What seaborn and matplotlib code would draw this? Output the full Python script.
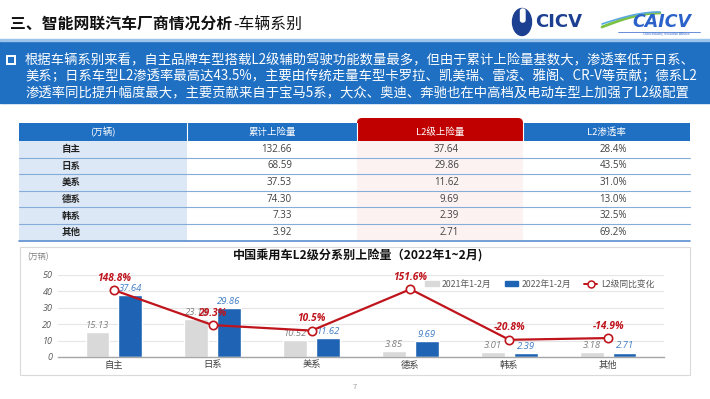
import numpy as np
import pandas as pd
import matplotlib
matplotlib.use('Agg')
import matplotlib.pyplot as plt
import seaborn as sns
from matplotlib.patches import Rectangle, FancyBboxPatch, Ellipse, Patch
from matplotlib.lines import Line2D

# ---------------- data ----------------
categories = ['自主', '日系', '美系', '德系', '韩系', '其他']
cum_insured = [132.66, 68.59, 37.53, 74.30, 7.33, 3.92]
l2_insured = [37.64, 29.86, 11.62, 9.69, 2.39, 2.71]
l2_rate = [28.4, 43.5, 31.0, 13.0, 32.5, 69.2]
table_headers = ['(万辆)', '累计上险量', 'L2级上险量', 'L2渗透率']

series_names = ['2021年1-2月', '2022年1-2月']
insured_2021 = [15.13, 23.10, 10.52, 3.85, 3.01, 3.18]
insured_2022 = [37.64, 29.86, 11.62, 9.69, 2.39, 2.71]
l2_yoy = [148.8, 29.3, 10.5, 151.6, -20.8, -14.9]
line_name = 'L2级同比变化'
y_ticks = [0, 10, 20, 30, 40, 50]

title_bold = '三、智能网联汽车厂商情况分析'
title_rest = '-车辆系别'
chart_title = '中国乘用车L2级分系别上险量（2022年1~2月)'
unit_label = '(万辆)'
summary_lines = [
    '根据车辆系别来看，自主品牌车型搭载L2级辅助驾驶功能数量最多，但由于累计上险量基数大，渗透率低于日系、',
    '美系；日系车型L2渗透率最高达43.5%，主要由传统走量车型卡罗拉、凯美瑞、雷凌、雅阁、CR-V等贡献；德系L2',
    '渗透率同比提升幅度最大，主要贡献来自于宝马5系，大众、奥迪、奔驰也在中高档及电动车型上加强了L2级配置',
]
page_no = '7'

# ---------------- style ----------------
sns.set_style('white')
plt.rcParams['font.family'] = ['Noto Sans CJK SC', 'DejaVu Sans']
NUM_FONT = ['Open Sans', 'DejaVu Sans']

BANNER = '#1f6fc2'
HEAD_BLUE = '#1f6fc2'
LIGHT_COL = '#dce8f6'
RED_HEAD = '#c00000'
PINK = '#fdf2f2'
ROW_LINE = '#86acd9'
GRAY_BAR = '#d9d9d9'
BLUE_BAR = '#1f64b4'
LINE_RED = '#c0141c'
GRAY_LBL = '#7f7f7f'
BLUE_LBL = '#3f7cc6'

fig = plt.figure(figsize=(7.1, 3.99), dpi=100)
bg = fig.add_axes([0, 0, 1, 1])
bg.set_xlim(0, 710)
bg.set_ylim(399, 0)
bg.axis('off')

# ---------------- title ----------------
t1 = bg.text(10, 24, title_bold, fontsize=11.4, fontweight='bold', va='center',
             ha='left', color='#111111')
fig.canvas.draw()
bb = t1.get_window_extent(renderer=fig.canvas.get_renderer())
bg.text(bb.x1 + 1, 24, title_rest, fontsize=11.4, va='center', ha='left', color='#111111')

# ---------------- logos ----------------
bg.add_patch(Ellipse((522, 22), 19, 27, color='#1d3f91'))
bg.add_patch(FancyBboxPatch((520.5, 9), 4.5, 13, boxstyle='round,pad=0,rounding_size=2',
                            color='white'))
bg.text(535, 22, 'CICV', fontsize=13, fontweight='bold', color='#1d3f91', va='center',
        ha='left', family='DejaVu Sans')
xs = np.linspace(602, 660, 30)
bg.plot(xs, 27 - 14 * np.sin((xs - 602) / 58 * np.pi / 2), color='#7cc242', lw=2)
bg.plot(xs, 24 - 12 * np.sin((xs - 602) / 58 * np.pi / 2), color='#5aa8e0', lw=1.2)
bg.text(662, 22, 'CAICV', fontsize=12.5, fontweight='bold', fontstyle='italic',
        color='#2a62c9', va='center', ha='center', family='DejaVu Sans')
bg.plot([618, 700], [31.5, 31.5], color='#2a62c9', lw=0.5)
bg.text(666, 34.5, 'China Industry Innovation Alliance', fontsize=2, color='#2a62c9',
        ha='center', va='center', family='DejaVu Sans')

# ---------------- banner ----------------
bg.add_patch(Rectangle((0, 40), 710, 63, color=BANNER))
bg.add_patch(Rectangle((0, 39), 710, 2, color='#9cc3ea'))
bg.add_patch(Rectangle((7, 56), 8, 8, fill=False, ec='white', lw=1.4))
for i, line in enumerate(summary_lines):
    bg.text(25, 60 + i * 16.5, line, fontsize=9.6, color='white', va='center', ha='left')

# ---------------- table ----------------
col_x = [19, 187, 357, 523, 690]
head_top, head_bot = 123, 141
row_h = 16.6
n_rows = len(categories)
tbl_bot = head_bot + row_h * n_rows

bg.add_patch(Rectangle((col_x[0], head_bot), col_x[1] - col_x[0], tbl_bot - head_bot,
                       color=LIGHT_COL, lw=0))
bg.add_patch(Rectangle((col_x[2], head_bot), col_x[3] - col_x[2], tbl_bot - head_bot,
                       color=PINK, lw=0))
bg.add_patch(Rectangle((col_x[0], head_top), col_x[4] - col_x[0], head_bot - head_top,
                       color=HEAD_BLUE, lw=0))
bg.add_patch(FancyBboxPatch((col_x[2], 118), col_x[3] - col_x[2], head_bot - 118,
                            boxstyle='round,pad=0,rounding_size=5', color=RED_HEAD, lw=0))
bg.add_patch(Rectangle((col_x[2], 128), col_x[3] - col_x[2], head_bot - 128,
                       color=RED_HEAD, lw=0))
for x in col_x[1:4]:
    bg.plot([x, x], [head_top, head_bot], color='white', lw=0.8)

head_cx = [(col_x[i] + col_x[i + 1]) / 2 for i in range(4)]
for i, h in enumerate(table_headers):
    bg.text(head_cx[i], 132, h, fontsize=6.8, color='white', ha='center', va='center',
            fontstyle='italic' if i == 0 else 'normal')

right_x = [292, 459, 627]
for r in range(n_rows):
    yc = head_bot + row_h * (r + 0.5)
    bg.text(62, yc, categories[r], fontsize=6.8, fontweight='bold', color='#222222',
            ha='left', va='center')
    vals = [f'{cum_insured[r]:.2f}', f'{l2_insured[r]:.2f}', f'{l2_rate[r]:.1f}%']
    for c, v in enumerate(vals):
        bg.text(right_x[c], yc, v, fontsize=7, color='#404040', ha='right', va='center',
                family=NUM_FONT)
    yl = head_bot + row_h * (r + 1)
    bg.plot([col_x[0], col_x[4]], [yl, yl], color=ROW_LINE if r < n_rows - 1 else '#5b8fcf',
            lw=0.8 if r < n_rows - 1 else 1.2)

# ---------------- chart panel ----------------
bg.add_patch(Rectangle((20, 247), 670, 128, fill=False, ec='#dadada', lw=0.8))
bg.text(358, 256, chart_title, fontsize=8.7, fontweight='bold', color='#111111',
        ha='center', va='center')
bg.text(38, 257, unit_label, fontsize=5.8, fontstyle='italic', color='#7f7f7f',
        ha='center', va='center')
bg.text(355, 387, page_no, fontsize=5.5, color='#9a9a9a', ha='center', va='center')

ax = fig.add_axes([58 / 710, 1 - 357 / 399, 606 / 710, 82 / 399])
ax.patch.set_alpha(0)
df = pd.DataFrame({
    '系别': categories * 2,
    '上险量': insured_2021 + insured_2022,
    '期间': [series_names[0]] * len(categories) + [series_names[1]] * len(categories),
})
sns.barplot(data=df, x='系别', y='上险量', hue='期间', palette=[GRAY_BAR, BLUE_BAR],
            width=0.66, gap=0.27, saturation=1, errorbar=None, legend=False, ax=ax)
ax.set_ylim(0, 50)
ax.set_yticks(y_ticks)
ax.set_yticklabels([str(t) for t in y_ticks], fontstyle='italic', color='#595959',
                   fontsize=6.5, family=NUM_FONT)
ax.tick_params(axis='y', length=0, pad=4)
ax.tick_params(axis='x', length=0, pad=2.5, labelsize=6.7, labelcolor='#404040')
ax.yaxis.grid(True, color='#e6e6e6', lw=0.8)
ax.set_axisbelow(True)
for s in ['left', 'right', 'top']:
    ax.spines[s].set_visible(False)
ax.spines['bottom'].set_color('#a6a6a6')
ax.spines['bottom'].set_linewidth(1)
ax.set_xlabel('')
ax.set_ylabel('')

for cont, vals, col in zip(ax.containers, [insured_2021, insured_2022], [GRAY_LBL, BLUE_LBL]):
    ax.bar_label(cont, labels=[f'{v:.2f}' for v in vals], padding=1.5, fontsize=6.8,
                 fontstyle='italic', color=col, family=NUM_FONT)

ax2 = ax.twinx()
sns.lineplot(x=categories, y=l2_yoy, sort=False, ax=ax2, color=LINE_RED, lw=1.6,
             marker='o', markersize=6, markerfacecolor='white', markeredgecolor=LINE_RED,
             markeredgewidth=1.2)
ax2.set_ylim(-79.4, 200)
ax2.axis('off')
for cat, v in zip(categories, l2_yoy):
    ax2.annotate(f'{v:.1f}%', (cat, v), xytext=(0, 8.5), textcoords='offset points',
                 ha='center', va='center', fontsize=7.3, fontweight='bold',
                 fontstyle='italic', color=LINE_RED, family=NUM_FONT)

handles = [Patch(color=GRAY_BAR), Patch(color=BLUE_BAR),
           Line2D([], [], color=LINE_RED, lw=1.4, marker='o', markersize=5,
                  markerfacecolor='white', markeredgecolor=LINE_RED, markeredgewidth=1.1)]
leg = ax2.legend(handles, series_names + [line_name], ncol=3, loc='center right',
                 bbox_to_anchor=(662 / 710, 1 - 284 / 399), bbox_transform=fig.transFigure,
                 frameon=False, fontsize=6.3, handlelength=1.5, handleheight=0.55,
                 columnspacing=1.5, handletextpad=0.4, labelcolor='#595959')

fig.savefig('out.png', dpi=100)
